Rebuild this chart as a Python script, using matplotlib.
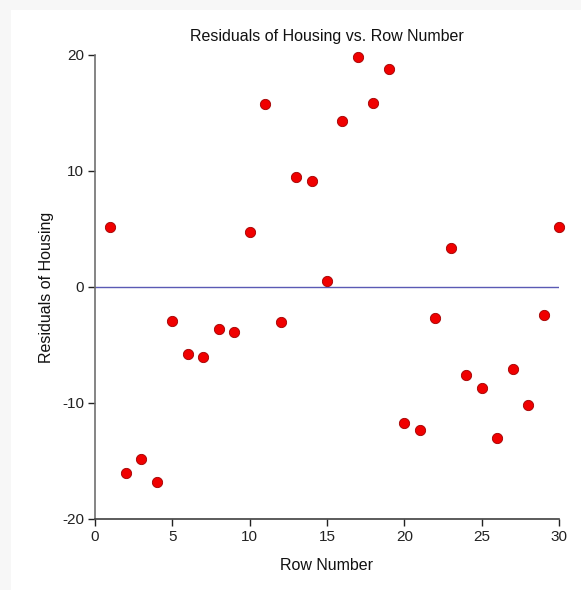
import matplotlib
matplotlib.use("Agg")
import matplotlib.pyplot as plt
from matplotlib.patches import Rectangle

row_number = list(range(1, 31))
residuals = [5.2, -16.0, -14.8, -16.8, -2.9, -5.8, -6.0, -3.6, -3.9, 4.7,
             15.8, -3.0, 9.5, 9.1, 0.5, 14.3, 19.8, 15.9, 18.8, -11.7,
             -12.3, -2.7, 3.4, -7.6, -8.7, -13.0, -7.1, -10.2, -2.4, 5.2]
x_ticks = [0, 5, 10, 15, 20, 25, 30]
y_ticks = [-20, -10, 0, 10, 20]

plt.rcParams['font.family'] = ['Liberation Sans', 'DejaVu Sans']
plt.rcParams['axes.unicode_minus'] = False

W, H = 581, 590
fig = plt.figure(figsize=(W / 100, H / 100), dpi=100)
fig.patch.set_facecolor('#f7f7f7')
fig.add_artist(Rectangle((11 / W, 0), 1 - 11 / W, 1 - 10 / H,
                         transform=fig.transFigure, facecolor='white',
                         edgecolor='none', zorder=-10))

ax = fig.add_axes([95 / W, 1 - 519 / H, (559 - 95) / W, (519 - 55) / H])
ax.set_zorder(1)
ax.set_facecolor('none')
ax.set_xlim(0, 30)
ax.set_ylim(-20, 20)

ax.axhline(0, color='#5a5ab4', lw=1.0, zorder=1)
ax.scatter(row_number, residuals, s=55, color='#f00000', edgecolors='#a00000',
           linewidths=0.6, zorder=3, clip_on=False)

for s in ['top', 'right']:
    ax.spines[s].set_visible(False)
ax.spines['left'].set_color('#707070')
ax.spines['bottom'].set_color('#404040')
ax.spines['left'].set_linewidth(1.2)
ax.spines['bottom'].set_linewidth(1.2)

ax.set_xticks(x_ticks)
ax.set_yticks(y_ticks)
ax.tick_params(axis='both', direction='out', length=5, width=1, labelsize=11,
               colors='#222222', pad=3)

ax.set_title('Residuals of Housing vs. Row Number', fontsize=11.5, color='#111111', pad=10)
ax.set_xlabel('Row Number', fontsize=11.5, color='#111111', labelpad=10)
ax.set_ylabel('Residuals of Housing', fontsize=11.5, color='#111111', labelpad=6)

fig.savefig('out.png', dpi=100, facecolor=fig.get_facecolor())
